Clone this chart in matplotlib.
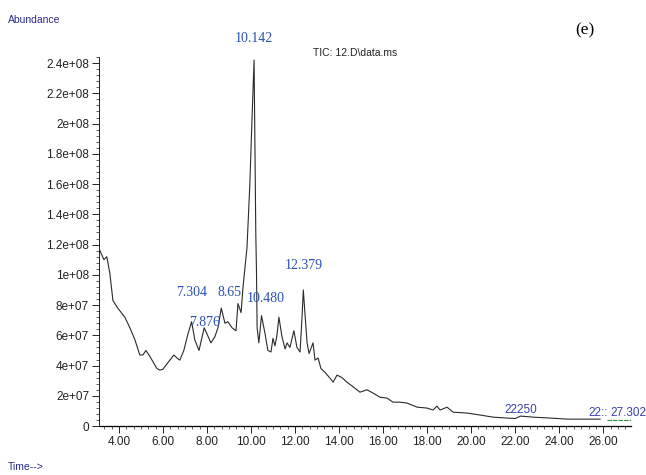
import matplotlib.pyplot as plt
from matplotlib.ticker import MultipleLocator, AutoMinorLocator

# retention time (min) and abundance
time = [3.14, 3.32, 3.45, 3.59, 3.73, 3.95, 4.27, 4.50, 4.73, 4.95, 5.09, 5.23,
        5.41, 5.73, 5.86, 6.00, 6.23, 6.50, 6.64, 6.77, 6.95, 7.14, 7.304, 7.45,
        7.64, 7.876, 8.00, 8.18, 8.36, 8.50, 8.65, 8.82, 8.95, 9.14, 9.32, 9.41,
        9.55, 9.64, 9.82, 9.95, 10.05, 10.142, 10.22, 10.25, 10.28, 10.36, 10.48,
        10.64, 10.77, 10.91, 11.00, 11.09, 11.18, 11.27, 11.41, 11.55, 11.64,
        11.77, 11.95, 12.09, 12.23, 12.32, 12.379, 12.45, 12.55, 12.64, 12.82,
        12.91, 13.05, 13.18, 13.36, 13.59, 13.73, 13.91, 14.14, 14.36, 14.64,
        14.95, 15.27, 15.55, 15.86, 16.18, 16.45, 16.77, 17.09, 17.55, 18.00,
        18.27, 18.45, 18.59, 18.91, 19.18, 19.82, 20.41, 21.00, 21.64, 22.00,
        22.25, 22.82, 23.59, 24.36, 25.05, 25.86]
abundance = [1.16e8, 1.10e8, 1.12e8, 1.01e8, 8.3e7, 7.8e7, 7.2e7, 6.5e7, 5.7e7,
             4.7e7, 4.7e7, 5.0e7, 4.6e7, 3.8e7, 3.7e7, 3.76e7, 4.2e7, 4.7e7,
             4.5e7, 4.36e7, 5.0e7, 6.1e7, 6.9e7, 5.7e7, 5.0e7, 6.5e7, 6.1e7,
             5.5e7, 5.9e7, 6.5e7, 7.8e7, 6.8e7, 6.9e7, 6.5e7, 6.3e7, 8.1e7,
             7.5e7, 9.2e7, 1.18e8, 1.60e8, 2.04e8, 2.42e8, 1.27e8, 1.03e8,
             6.5e7, 5.5e7, 7.3e7, 6.1e7, 5.0e7, 4.9e7, 5.8e7, 5.3e7, 6.0e7,
             7.2e7, 5.9e7, 5.1e7, 5.5e7, 5.2e7, 6.3e7, 5.2e7, 4.9e7, 7.2e7,
             9.0e7, 7.5e7, 5.5e7, 4.8e7, 5.5e7, 4.36e7, 4.5e7, 3.8e7, 3.56e7,
             3.17e7, 2.9e7, 3.37e7, 3.2e7, 2.9e7, 2.6e7, 2.24e7, 2.4e7, 2.18e7,
             1.91e7, 1.85e7, 1.58e7, 1.58e7, 1.52e7, 1.25e7, 1.19e7, 1.06e7,
             1.32e7, 1.06e7, 1.25e7, 9.2e6, 8.6e6, 7.3e6, 5.9e6, 5.3e6, 5.0e6,
             6.6e6, 5.9e6, 5.3e6, 4.6e6, 4.6e6, 4.6e6]
# last segment after the gap
tail_time = [26.18, 27.302]
tail_abundance = [4.0e6, 4.0e6]

# labelled peaks: text, label x, label y (data units)
peak_labels = ['10.142', '7.304', '7.876', '8.65', '10.480', '12.379']
peak_x = [10.142, 7.304, 7.876, 9.02, 10.68, 12.379]
peak_y = [2.52e8, 8.4e7, 6.4e7, 8.4e7, 8.0e7, 1.02e8]

fig = plt.figure(figsize=(6.46, 4.75), dpi=100)
ax = fig.add_axes([0.153, 0.103, 0.824, 0.777])

ax.plot(time, abundance, color='#2a2a2a', lw=0.8)
ax.plot(tail_time, tail_abundance, color='#2f8a3a', lw=0.8, ls=(0, (4, 1)))

ax.set_xlim(3.09, 27.27)
ax.set_ylim(0, 2.44e8)

for s in ['top', 'right']:
    ax.spines[s].set_visible(False)
ax.spines['left'].set_linewidth(0.6)
ax.spines['left'].set_linestyle((0, (2, 1)))
ax.spines['bottom'].set_linewidth(0.9)

ax.xaxis.set_major_locator(MultipleLocator(2))
ax.xaxis.set_major_formatter(plt.FuncFormatter(lambda v, p: '%.2f' % v))
ax.xaxis.set_minor_locator(AutoMinorLocator(6))
ax.yaxis.set_major_locator(MultipleLocator(2e7))
ax.yaxis.set_major_formatter(plt.FuncFormatter(
    lambda v, p: '0' if v == 0 else '%g' % v))
ax.yaxis.set_minor_locator(AutoMinorLocator(5))

ax.tick_params(axis='both', which='major', length=5, width=0.7,
               colors='#222222', pad=2)
ax.tick_params(axis='both', which='minor', length=2.5, width=0.6,
               colors='#444444')
for lbl in ax.get_xticklabels() + ax.get_yticklabels():
    lbl.set_fontfamily('Liberation Sans')
    lbl.set_fontsize(8.5)
    lbl.set_color('#222222')

blue = '#2b4fb5'
for txt, x, y in zip(peak_labels, peak_x, peak_y):
    ax.text(x, y, txt, ha='center', va='bottom', color=blue,
            family='Liberation Serif', size=10)
ax.text(22.25, 6.8e6, '22250', ha='center', va='bottom', color='#3a3fb0',
        family='Liberation Sans', size=8.5)
ax.text(25.35, 4.6e6, '22::', ha='left', va='bottom', color='#3a3fb0',
        family='Liberation Sans', size=8.5)
ax.text(26.35, 4.6e6, '27.302', ha='left', va='bottom', color='#3a3fb0',
        family='Liberation Sans', size=8.5, clip_on=False)

fig.text(0.012, 0.958, 'Abundance', color='#2a2a8a', family='Liberation Sans',
         size=7.5, va='center')
fig.text(0.012, 0.017, 'Time-->', color='#2a2a8a', family='Liberation Sans',
         size=7.5, va='center')
fig.text(0.485, 0.888, 'TIC: 12.D\\data.ms', color='#222222',
         family='Liberation Sans', size=7.5, va='center')
fig.text(0.905, 0.935, '(e)', color='black', family='Liberation Serif',
         size=12.5, va='center', ha='center')

fig.savefig('out.png', dpi=100)
